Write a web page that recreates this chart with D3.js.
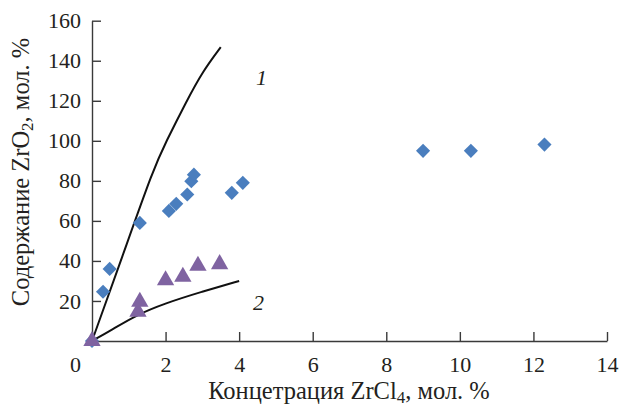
<!doctype html>
<meta charset="utf-8">
<title>ZrO2 vs ZrCl4</title>
<script src="https://cdn.jsdelivr.net/npm/d3@7"></script>
<style>
body, html {
  margin: 0;
  background: #fff;
}
svg text {
  font-family: "Liberation Serif", serif !important;
  fill: #231f20;
}
</style>
<div id="chart"></div>
<script>
var width = 622;
var height = 406;

// x ticks and y ticks
var xTicks = [0, 2, 4, 6, 8, 10, 12, 14];
var yTicks = [20, 40, 60, 80, 100, 120, 140, 160];

// blue diamonds: ZrO2 content vs ZrCl4 concentration
var diamondX = [0, 0.3, 0.48, 1.3, 2.09, 2.29, 2.59, 2.7, 2.77, 3.8, 4.1, 9.0, 10.3, 12.3];
var diamondY = [0, 24.6, 36, 59, 65, 68.5, 73.2, 79.8, 83.1, 74, 79, 95, 95, 98.1];

// purple triangles
var triX = [0, 1.25, 1.3, 2.0, 2.47, 2.88, 3.47];
var triY = [0, 14.6, 19.6, 30.4, 32.1, 37.6, 38.4];

// curve 1
var curve1X = [0, 0.85, 1.67, 2.0, 2.56, 3.02, 3.5];
var curve1Y = [0, 43.5, 86, 99, 119.5, 135, 146.8];

// curve 2
var curve2X = [0, 0.53, 1.21, 1.98, 2.98, 4.0];
var curve2Y = [0, 5.5, 13, 18.8, 24.6, 30];

var svg = d3.select('#chart')
  .append('svg')
  .attr('width', width)
  .attr('height', height);

var x = d3.scaleLinear().domain([0, 14]).range([92, 607]);
var y = d3.scaleLinear().domain([0, 160]).range([341, 20.7]);

var axisColor = '#3a3a3a';
var serif = '"Liberation Serif", serif';

// x axis, ticks pointing inside
var gx = svg.append('g')
  .attr('transform', 'translate(0,' + y(0) + ')')
  .call(d3.axisBottom(x).tickValues(xTicks).tickSize(-9).tickSizeOuter(0).tickPadding(10));
gx.attr('font-family', serif).attr('font-size', 22);
gx.select('.domain').attr('stroke', axisColor).attr('stroke-width', 1.4);
gx.selectAll('.tick line').attr('stroke', axisColor).attr('stroke-width', 1.4);
gx.selectAll('.tick text')
  .style('font-family', serif)
  .attr('fill', '#231f20')
  .attr('dy', '0.95em')
  .attr('y', 10);
// the zero label sits left of the corner
gx.selectAll('.tick').filter(function(d) { return d === 0; })
  .select('text').attr('x', -17);

// y axis
var gy = svg.append('g')
  .attr('transform', 'translate(' + x(0) + ',0)')
  .call(d3.axisLeft(y).tickValues(yTicks).tickSize(-9).tickSizeOuter(0).tickPadding(11));
gy.attr('font-family', serif).attr('font-size', 22);
gy.select('.domain').attr('stroke', axisColor).attr('stroke-width', 1.4);
gy.selectAll('.tick line').attr('stroke', axisColor).attr('stroke-width', 1.4);
gy.selectAll('.tick text')
  .style('font-family', serif)
  .attr('fill', '#231f20');

// curves
var line = d3.line()
  .x(function(d) { return x(d[0]); })
  .y(function(d) { return y(d[1]); })
  .curve(d3.curveBasis);

svg.append('path')
  .datum(d3.zip(curve1X, curve1Y))
  .attr('d', line)
  .attr('fill', 'none')
  .attr('stroke', '#111')
  .attr('stroke-width', 2);

svg.append('path')
  .datum(d3.zip(curve2X, curve2Y))
  .attr('d', line)
  .attr('fill', 'none')
  .attr('stroke', '#111')
  .attr('stroke-width', 2);

// markers
var diamond = d3.symbol().type(d3.symbolSquare).size(100);
svg.selectAll('path.dia')
  .data(d3.zip(diamondX, diamondY))
  .enter().append('path')
  .attr('class', 'dia')
  .attr('d', diamond)
  .attr('transform', function(d) { return 'translate(' + x(d[0]) + ',' + y(d[1]) + ') rotate(45)'; })
  .attr('fill', '#4a7ebe');

var tri = d3.symbol().type(d3.symbolTriangle).size(130);
svg.selectAll('path.tri')
  .data(d3.zip(triX, triY))
  .enter().append('path')
  .attr('class', 'tri')
  .attr('d', tri)
  .attr('transform', function(d) { return 'translate(' + x(d[0]) + ',' + y(d[1]) + ')'; })
  .attr('fill', '#7f63a1');

// curve numbers
svg.append('text').attr('x', 256).attr('y', 85)
  .attr('font-size', 22).attr('font-style', 'italic').text('1');
svg.append('text').attr('x', 253).attr('y', 310)
  .attr('font-size', 22).attr('font-style', 'italic').text('2');

// axis titles
var xt = svg.append('text')
  .attr('x', 349).attr('y', 399)
  .attr('text-anchor', 'middle')
  .attr('font-size', 24.5);
xt.append('tspan').text('Концетрация ZrCl');
xt.append('tspan').attr('font-size', 17).attr('dy', 4).text('4');
xt.append('tspan').attr('dy', -4).text(', мол. %');

var yt = svg.append('text')
  .attr('transform', 'translate(29,172) rotate(-90)')
  .attr('text-anchor', 'middle')
  .attr('font-size', 24.5);
yt.append('tspan').text('Содержание ZrO');
yt.append('tspan').attr('font-size', 17).attr('dy', 4).text('2');
yt.append('tspan').attr('dy', -4).text(', мол. %');
</script>
